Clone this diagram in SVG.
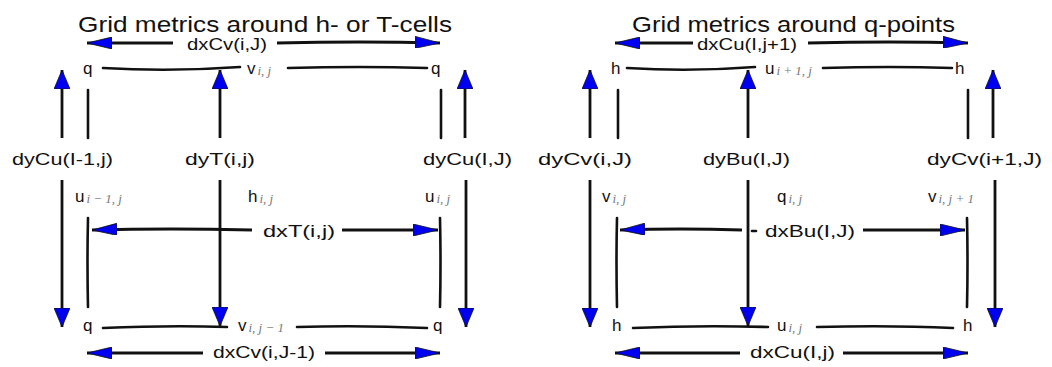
<svg xmlns="http://www.w3.org/2000/svg" width="1052" height="367" viewBox="0 0 1052 367">
<style>
text{font-family:"Liberation Sans","DejaVu Sans",sans-serif;fill:#111}
.title{font-size:22px}
.lab{font-size:17px}
.pt{font-size:17px}
.sub{font-family:"Liberation Serif","DejaVu Serif",serif;font-style:italic;font-size:13px;fill:#777}
.ln{fill:none;stroke:#111;stroke-width:2.6;stroke-linecap:round}
.av{fill:none;stroke:#111;stroke-width:2.8;marker-end:url(#hv)}
.ah{fill:none;stroke:#111;stroke-width:2.8;marker-end:url(#hh)}
</style>
<defs>
<marker id="hv" markerUnits="userSpaceOnUse" viewBox="0 0 19 16" markerWidth="19" markerHeight="16" refX="19" refY="8" orient="auto">
<path d="M0,0 L19,8 L0,16 z" fill="#0000f0" stroke="#111" stroke-width="0.8"/>
</marker>
<marker id="hh" markerUnits="userSpaceOnUse" viewBox="0 0 25 12" markerWidth="25" markerHeight="12" refX="25" refY="6" orient="auto">
<path d="M0,0 L25,6 L0,12 z" fill="#0000f0" stroke="#111" stroke-width="0.8"/>
</marker>
</defs>
<rect width="1052" height="367" fill="#fff"/>

<g id="connectors">
<!-- left panel grid edges -->
<path class="ln" d="M103,68 Q170,72 240,67"/>
<path class="ln" d="M288,68 Q360,66 427,68"/>
<path class="ln" d="M103,328 Q170,325 227,327"/>
<path class="ln" d="M297,327 Q360,325 427,328"/>
<path class="ln" d="M88,90 L88,138"/>
<path class="ln" d="M88,218 Q87,262 88,307"/>
<path class="ln" d="M441,90 L441,138"/>
<path class="ln" d="M440,218 Q441,262 440,307"/>
<!-- left panel arrows -->
<path class="av" d="M62,138 L62,70"/>
<path class="av" d="M62,180 L62,327"/>
<path class="av" d="M220,138 L220,70"/>
<path class="av" d="M220,180 L220,326"/>
<path class="av" d="M465,138 L465,70"/>
<path class="av" d="M466,180 L466,327"/>
<path class="ah" d="M173,43 L87,43"/>
<path class="ah" d="M277,43 Q360,41 440,43"/>
<path class="ah" d="M252,230 Q170,228 92,230"/>
<path class="ah" d="M342,230 L438,230"/>
<path class="ah" d="M203,353 L87,353"/>
<path class="ah" d="M325,353 L440,353"/>
<!-- right panel grid edges -->
<path class="ln" d="M627,68 Q690,72 755,67"/>
<path class="ln" d="M823,68 Q890,66 952,68"/>
<path class="ln" d="M633,328 Q700,325 768,327"/>
<path class="ln" d="M817,327 Q890,325 953,328"/>
<path class="ln" d="M618,90 L618,138"/>
<path class="ln" d="M617,218 Q616,262 617,307"/>
<path class="ln" d="M968,90 L968,138"/>
<path class="ln" d="M967,218 Q968,262 967,307"/>
<!-- right panel arrows -->
<path class="av" d="M590,138 L590,70"/>
<path class="av" d="M590,180 L590,327"/>
<path class="av" d="M748,138 L748,70"/>
<path class="av" d="M748,180 L748,326"/>
<path class="av" d="M993,138 L993,70"/>
<path class="av" d="M995,180 L995,327"/>
<path class="ah" d="M693,43 L615,43"/>
<path class="ah" d="M808,43 Q890,41 968,43"/>
<path class="ah" d="M742,230 Q680,228 620,230"/>
<path class="ln" d="M752,231 L756,231"/>
<path class="ah" d="M863,230 L965,230"/>
<path class="ah" d="M740,353 L615,353"/>
<path class="ah" d="M843,353 L968,353"/>
</g>

<!-- titles -->
<g id="title-left"><text class="title" x="78" y="32" textLength="374" lengthAdjust="spacingAndGlyphs">Grid metrics around h- or T-cells</text></g>
<g id="title-right"><text class="title" x="632" y="32" textLength="323" lengthAdjust="spacingAndGlyphs">Grid metrics around q-points</text></g>

<!-- left panel metric labels -->
<g id="dxCv-top"><text class="lab" x="187" y="50" textLength="80" lengthAdjust="spacingAndGlyphs">dxCv(i,J)</text></g>
<g id="dyCu-left"><text class="lab" x="12" y="165" textLength="101" lengthAdjust="spacingAndGlyphs">dyCu(I-1,j)</text></g>
<g id="dyT"><text class="lab" x="185" y="165" textLength="70" lengthAdjust="spacingAndGlyphs">dyT(i,j)</text></g>
<g id="dyCu-right"><text class="lab" x="423" y="165" textLength="89" lengthAdjust="spacingAndGlyphs">dyCu(I,J)</text></g>
<g id="dxT"><text class="lab" x="263" y="237" textLength="72" lengthAdjust="spacingAndGlyphs">dxT(i,j)</text></g>
<g id="dxCv-bottom"><text class="lab" x="213" y="358" textLength="102" lengthAdjust="spacingAndGlyphs">dxCv(i,J-1)</text></g>

<!-- left panel points -->
<g id="q-tl"><text class="pt" x="83" y="74">q</text></g>
<g id="v-top"><text class="pt" x="247" y="74">v<tspan class="sub" dx="2" dy="1">i, j</tspan></text></g>
<g id="q-tr"><text class="pt" x="431" y="74">q</text></g>
<g id="u-left"><text class="pt" x="75" y="202">u<tspan class="sub" dx="2" dy="1">i − 1, j</tspan></text></g>
<g id="h-center"><text class="pt" x="248" y="202">h<tspan class="sub" dx="2" dy="1">i, j</tspan></text></g>
<g id="u-right"><text class="pt" x="425" y="202">u<tspan class="sub" dx="2" dy="1">i, j</tspan></text></g>
<g id="q-bl"><text class="pt" x="83" y="331">q</text></g>
<g id="v-bottom"><text class="pt" x="238" y="331">v<tspan class="sub" dx="2" dy="1">i, j − 1</tspan></text></g>
<g id="q-br"><text class="pt" x="433" y="331">q</text></g>

<!-- right panel metric labels -->
<g id="dxCu-top"><text class="lab" x="697" y="50" textLength="100" lengthAdjust="spacingAndGlyphs">dxCu(I,j+1)</text></g>
<g id="dyCv-left"><text class="lab" x="538" y="165" textLength="94" lengthAdjust="spacingAndGlyphs">dyCv(i,J)</text></g>
<g id="dyBu"><text class="lab" x="703" y="165" textLength="87" lengthAdjust="spacingAndGlyphs">dyBu(I,J)</text></g>
<g id="dyCv-right"><text class="lab" x="927" y="165" textLength="115" lengthAdjust="spacingAndGlyphs">dyCv(i+1,J)</text></g>
<g id="dxBu"><text class="lab" x="765" y="237" textLength="90" lengthAdjust="spacingAndGlyphs">dxBu(I,J)</text></g>
<g id="dxCu-bottom"><text class="lab" x="750" y="358" textLength="85" lengthAdjust="spacingAndGlyphs">dxCu(I,j)</text></g>

<!-- right panel points -->
<g id="h-tl"><text class="pt" x="611" y="74">h</text></g>
<g id="u-top"><text class="pt" x="765" y="74">u<tspan class="sub" dx="2" dy="1">i + 1, j</tspan></text></g>
<g id="h-tr"><text class="pt" x="955" y="74">h</text></g>
<g id="v-left"><text class="pt" x="602" y="202">v<tspan class="sub" dx="2" dy="1">i, j</tspan></text></g>
<g id="q-center"><text class="pt" x="777" y="202">q<tspan class="sub" dx="2" dy="1">i, j</tspan></text></g>
<g id="v-right"><text class="pt" x="928" y="202">v<tspan class="sub" dx="2" dy="1">i, j + 1</tspan></text></g>
<g id="h-bl"><text class="pt" x="612" y="331">h</text></g>
<g id="u-bottom"><text class="pt" x="777" y="331">u<tspan class="sub" dx="2" dy="1">i, j</tspan></text></g>
<g id="h-br"><text class="pt" x="963" y="331">h</text></g>
</svg>
